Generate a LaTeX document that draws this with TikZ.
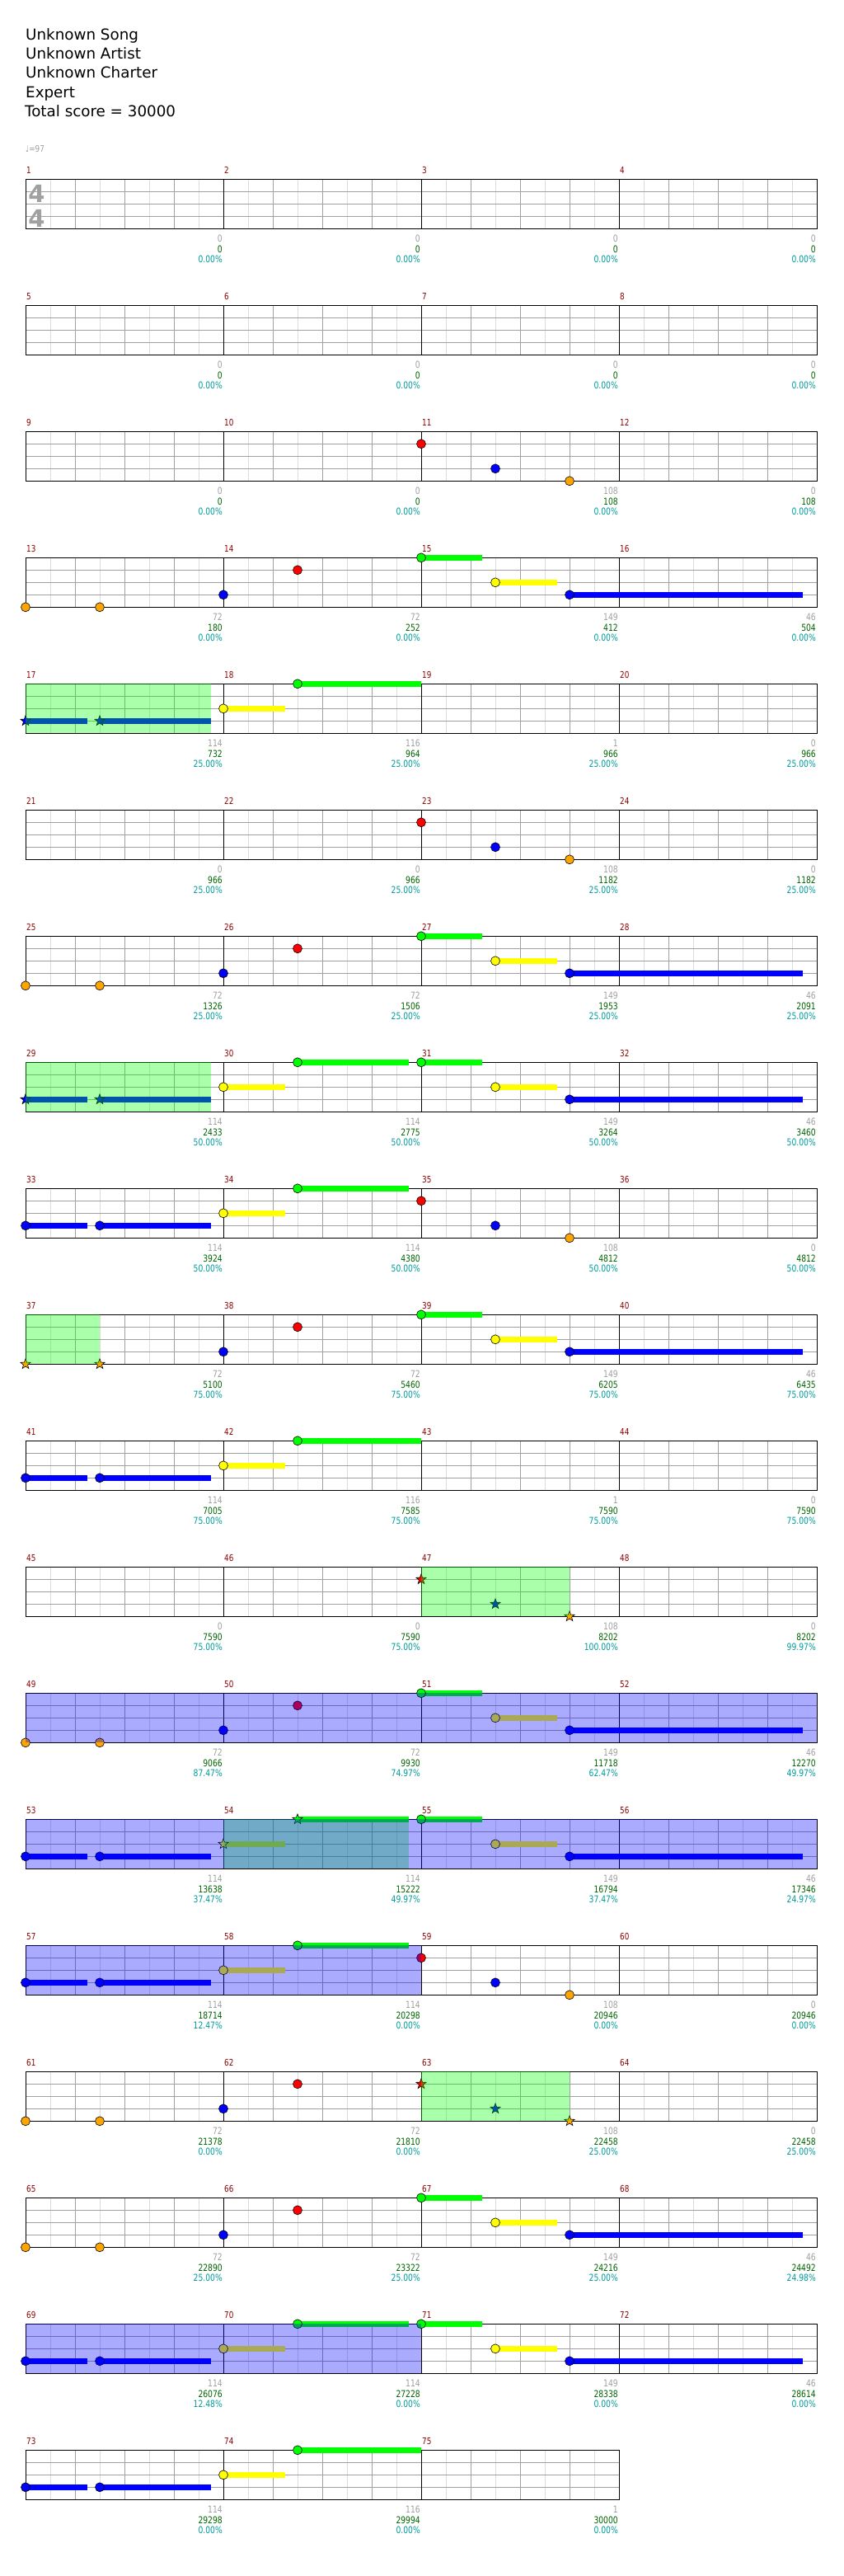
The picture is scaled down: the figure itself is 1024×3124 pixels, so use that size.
\documentclass[tikz,border=0pt]{standalone}
\usepackage{fontspec}
\setmainfont{DejaVu Sans}
\newfontfamily\smallf[FakeStretch=0.8]{DejaVu Sans}
\definecolor{lightgrid}{HTML}{DCDCDC}
\definecolor{gridc}{HTML}{A0A0A0}
\definecolor{mred}{HTML}{8B0000}
\definecolor{tgray}{HTML}{A0A0A0}
\definecolor{sgreen}{HTML}{006400}
\definecolor{pteal}{HTML}{009C9C}
\definecolor{nGreen}{HTML}{00FF00}
\definecolor{nRed}{HTML}{FF0000}
\definecolor{nYellow}{HTML}{FFFF00}
\definecolor{nBlue}{HTML}{0000FF}
\definecolor{nOrange}{HTML}{FFA500}
\tikzset{
  halfline/.style={draw=lightgrid, line width=1pt},
  beatline/.style={draw=gridc, line width=1pt},
  barline/.style={draw=black, line width=1pt},
  notec/.style={draw=black, line width=0.6pt},
  sustain/.style={line width=7pt},
  mnum/.style={text=mred, font=\smallf\fontsize{11}{11}\selectfont, anchor=base west, inner sep=0pt},
  gnum/.style={text=tgray, font=\smallf\fontsize{11.5}{11.5}\selectfont, anchor=base east, inner sep=0pt},
  snum/.style={text=sgreen, font=\smallf\fontsize{11.5}{11.5}\selectfont, anchor=base east, inner sep=0pt},
  pnum/.style={text=pteal, font=\smallf\fontsize{11.5}{11.5}\selectfont, anchor=base east, inner sep=0pt},
  headtxt/.style={anchor=base west, inner sep=0pt, font=\fontsize{18.3}{18.3}\selectfont},
  gov/.style={fill=nGreen, opacity=0.333},
  bov/.style={fill=nBlue, opacity=0.333},
}
\newcommand\staff[1]{%
  \pgfmathtruncatemacro\nh{8*#1-1}%
  \foreach \k in {1,...,\nh}{\draw[halfline] (31+30*\k,\T) -- ++(0,60);}%
  \pgfmathtruncatemacro\nb{4*#1-1}%
  \foreach \k in {1,...,\nb}{\draw[beatline] (31+60*\k,\T) -- ++(0,60);}%
  \foreach \k in {15,30,45}{\draw[beatline] (31,\T+\k) -- ++(240*#1,0);}%
  \pgfmathtruncatemacro\nm{#1-1}%
  \foreach \k in {1,...,\nm}{\draw[barline] (31+240*\k,\T) -- ++(0,60);}%
  \draw[barline] (31,\T) rectangle ++(240*#1,60);%
}
\newcommand\meas[5]{%
  \node[mnum] (mn#2) at (32+240*#1,\T-7) {#2};%
  \node[gnum] (gr#2) at (270+240*#1,\T+76.5) {#3};%
  \node[snum] (sc#2) at (270+240*#1,\T+89) {#4};%
  \node[pnum] (pc#2) at (270+240*#1,\T+101.5) {#5\%};%
}
\newcommand\nt[3]{\filldraw[notec,fill=#1] (#2,\T+#3) circle (5.5pt);}
\newcommand\stn[3]{\filldraw[notec,fill=#1] (#2,\T+#3) +(90:6.5pt) -- +(126:2.7pt) -- +(162:6.5pt) -- +(198:2.7pt) -- +(234:6.5pt) -- +(270:2.7pt) -- +(306:6.5pt) -- +(342:2.7pt) -- +(18:6.5pt) -- +(54:2.7pt) -- cycle;}
\newcommand\sus[4]{\draw[sustain,draw=#1] (#2,\T+#4) -- (#3,\T+#4);}
% patterns
\newcommand\Fone{\nt{nOrange}{31}{60}\nt{nOrange}{121}{60}\nt{nBlue}{271}{45}\nt{nRed}{361}{15}}
\newcommand\Hone{\sus{nGreen}{511}{585}{0}\nt{nGreen}{511}{0}\sus{nYellow}{601}{676}{30}\nt{nYellow}{601}{30}\sus{nBlue}{691}{974}{45}\nt{nBlue}{691}{45}}
\newcommand\Htwo{\nt{nRed}{511}{15}\nt{nBlue}{601}{45}\nt{nOrange}{691}{60}}
\newcommand\Htwostar{\stn{nRed}{511}{15}\stn{nBlue}{601}{45}\stn{nOrange}{691}{60}}
\newcommand\BlueBars{\sus{nBlue}{31}{106}{45}\sus{nBlue}{121}{256}{45}}
\newcommand\Ftwo[1]{\BlueBars\nt{nBlue}{31}{45}\nt{nBlue}{121}{45}%
  \sus{nYellow}{271}{346}{30}\nt{nYellow}{271}{30}\sus{nGreen}{361}{#1}{0}\nt{nGreen}{361}{0}}
\newcommand\Ftwostar[1]{\BlueBars\stn{nBlue}{31}{45}\stn{nBlue}{121}{45}%
  \sus{nYellow}{271}{346}{30}\nt{nYellow}{271}{30}\sus{nGreen}{361}{#1}{0}\nt{nGreen}{361}{0}}
\begin{document}
\begin{tikzpicture}[x=1pt,y=-1pt]
\useasboundingbox (0,0) rectangle (1024,3124);
\fill[white] (0,0) rectangle (1024,3124);
% header
\node[headtxt] (song) at (31,48.3) {Unknown Song};
\node[headtxt] (artist) at (31,71.6) {Unknown Artist};
\node[headtxt] (charter) at (31,94.9) {Unknown Charter};
\node[headtxt] (diff) at (31,118.2) {Expert};
\node[headtxt] (total) at (30,141.5) {Total score = 30000};
\node[anchor=base west, inner sep=0pt, text=tgray, font=\smallf\fontsize{11}{11}\selectfont] (tempo) at (31,184) {♩=97};
% ---- row 1
\def\T{217.3}
\staff{4}
\node[text=gridc, font=\bfseries\fontsize{29}{29}\selectfont, inner sep=0pt] (ts1) at (44.5,234.5) {4};
\node[text=gridc, font=\bfseries\fontsize{29}{29}\selectfont, inner sep=0pt] (ts2) at (44.5,264.5) {4};
\meas{0}{1}{0}{0}{0.00}\meas{1}{2}{0}{0}{0.00}\meas{2}{3}{0}{0}{0.00}\meas{3}{4}{0}{0}{0.00}
% ---- row 2
\def\T{370.3}
\staff{4}
\meas{0}{5}{0}{0}{0.00}\meas{1}{6}{0}{0}{0.00}\meas{2}{7}{0}{0}{0.00}\meas{3}{8}{0}{0}{0.00}
% ---- row 3
\def\T{523.3}
\staff{4}
\Htwo
\meas{0}{9}{0}{0}{0.00}\meas{1}{10}{0}{0}{0.00}\meas{2}{11}{108}{108}{0.00}\meas{3}{12}{0}{108}{0.00}
% ---- row 4
\def\T{676.3}
\staff{4}
\Fone\Hone
\meas{0}{13}{72}{180}{0.00}\meas{1}{14}{72}{252}{0.00}\meas{2}{15}{149}{412}{0.00}\meas{3}{16}{46}{504}{0.00}
% ---- row 5
\def\T{829.3}
\staff{4}
\Ftwostar{511}
\fill[gov] (31,\T) rectangle (256,\T+60);
\meas{0}{17}{114}{732}{25.00}\meas{1}{18}{116}{964}{25.00}\meas{2}{19}{1}{966}{25.00}\meas{3}{20}{0}{966}{25.00}
% ---- row 6
\def\T{982.3}
\staff{4}
\Htwo
\meas{0}{21}{0}{966}{25.00}\meas{1}{22}{0}{966}{25.00}\meas{2}{23}{108}{1182}{25.00}\meas{3}{24}{0}{1182}{25.00}
% ---- row 7
\def\T{1135.3}
\staff{4}
\Fone\Hone
\meas{0}{25}{72}{1326}{25.00}\meas{1}{26}{72}{1506}{25.00}\meas{2}{27}{149}{1953}{25.00}\meas{3}{28}{46}{2091}{25.00}
% ---- row 8
\def\T{1288.3}
\staff{4}
\Ftwostar{496}\Hone
\fill[gov] (31,\T) rectangle (256,\T+60);
\meas{0}{29}{114}{2433}{50.00}\meas{1}{30}{114}{2775}{50.00}\meas{2}{31}{149}{3264}{50.00}\meas{3}{32}{46}{3460}{50.00}
% ---- row 9
\def\T{1441.3}
\staff{4}
\Ftwo{496}\Htwo
\meas{0}{33}{114}{3924}{50.00}\meas{1}{34}{114}{4380}{50.00}\meas{2}{35}{108}{4812}{50.00}\meas{3}{36}{0}{4812}{50.00}
% ---- row 10
\def\T{1594.3}
\staff{4}
\stn{nOrange}{31}{60}\stn{nOrange}{121}{60}\nt{nBlue}{271}{45}\nt{nRed}{361}{15}\Hone
\fill[gov] (31,\T) rectangle (121,\T+60);
\meas{0}{37}{72}{5100}{75.00}\meas{1}{38}{72}{5460}{75.00}\meas{2}{39}{149}{6205}{75.00}\meas{3}{40}{46}{6435}{75.00}
% ---- row 11
\def\T{1747.3}
\staff{4}
\Ftwo{511}
\meas{0}{41}{114}{7005}{75.00}\meas{1}{42}{116}{7585}{75.00}\meas{2}{43}{1}{7590}{75.00}\meas{3}{44}{0}{7590}{75.00}
% ---- row 12
\def\T{1900.3}
\staff{4}
\Htwostar
\fill[gov] (511,\T) rectangle (691,\T+60);
\meas{0}{45}{0}{7590}{75.00}\meas{1}{46}{0}{7590}{75.00}\meas{2}{47}{108}{8202}{100.00}\meas{3}{48}{0}{8202}{99.97}
% ---- row 13
\def\T{2053.3}
\staff{4}
\Fone\Hone
\fill[bov] (31,\T) rectangle (991,\T+60);
\meas{0}{49}{72}{9066}{87.47}\meas{1}{50}{72}{9930}{74.97}\meas{2}{51}{149}{11718}{62.47}\meas{3}{52}{46}{12270}{49.97}
% ---- row 14
\def\T{2206.3}
\staff{4}
\BlueBars\nt{nBlue}{31}{45}\nt{nBlue}{121}{45}
\sus{nYellow}{271}{346}{30}\stn{nYellow}{271}{30}\sus{nGreen}{361}{496}{0}\stn{nGreen}{361}{0}
\Hone
\fill[gov] (271,\T) rectangle (496,\T+60);
\fill[bov] (31,\T) rectangle (991,\T+60);
\meas{0}{53}{114}{13638}{37.47}\meas{1}{54}{114}{15222}{49.97}\meas{2}{55}{149}{16794}{37.47}\meas{3}{56}{46}{17346}{24.97}
% ---- row 15
\def\T{2359.3}
\staff{4}
\Ftwo{496}\Htwo
\fill[bov] (31,\T) rectangle (511,\T+60);
\meas{0}{57}{114}{18714}{12.47}\meas{1}{58}{114}{20298}{0.00}\meas{2}{59}{108}{20946}{0.00}\meas{3}{60}{0}{20946}{0.00}
% ---- row 16
\def\T{2512.3}
\staff{4}
\Fone\Htwostar
\fill[gov] (511,\T) rectangle (691,\T+60);
\meas{0}{61}{72}{21378}{0.00}\meas{1}{62}{72}{21810}{0.00}\meas{2}{63}{108}{22458}{25.00}\meas{3}{64}{0}{22458}{25.00}
% ---- row 17
\def\T{2665.3}
\staff{4}
\Fone\Hone
\meas{0}{65}{72}{22890}{25.00}\meas{1}{66}{72}{23322}{25.00}\meas{2}{67}{149}{24216}{25.00}\meas{3}{68}{46}{24492}{24.98}
% ---- row 18
\def\T{2818.3}
\staff{4}
\Ftwo{496}\Hone
\fill[bov] (31,\T) rectangle (511,\T+60);
\meas{0}{69}{114}{26076}{12.48}\meas{1}{70}{114}{27228}{0.00}\meas{2}{71}{149}{28338}{0.00}\meas{3}{72}{46}{28614}{0.00}
% ---- row 19
\def\T{2971.3}
\staff{3}
\Ftwo{511}
\meas{0}{73}{114}{29298}{0.00}\meas{1}{74}{116}{29994}{0.00}\meas{2}{75}{1}{30000}{0.00}
\end{tikzpicture}
\end{document}
